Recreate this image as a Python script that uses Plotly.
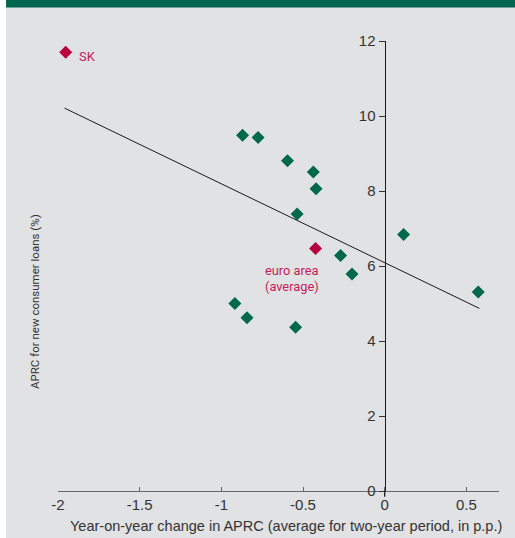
import plotly.graph_objects as go

# ---- data ----
country_x = [-0.87, -0.775, -0.595, -0.437, -0.42, -0.536, -0.27, -0.20, -0.917, 0.116, 0.573, -0.843, -0.545]
country_y = [9.49, 9.43, 8.81, 8.51, 8.06, 7.39, 6.28, 5.79, 5.00, 6.84, 5.31, 4.62, 4.37]
sk_x = [-1.953]
sk_y = [11.70]
ea_x = [-0.423]
ea_y = [6.47]
trend_x = [-1.96, 0.58]
trend_y = [10.21, 4.87]
x_ticks = [-2, -1.5, -1, -0.5, 0, 0.5]
x_tick_labels = ["-2", "-1.5", "-1", "-0.5", "0", "0.5"]
y_ticks = [0, 2, 4, 6, 8, 10, 12]
y_tick_labels = ["0", "2", "4", "6", "8", "10", "12"]

GREEN = "#00684C"
RED = "#B8003F"
LABEL_RED = "#C41E5A"
BG = "#E1E2E3"
LABELFONT = "Roboto, Arial, sans-serif"
TICKFONT = "Liberation Sans, Arial, sans-serif"

x_range = [-2.0, 0.7]
y_pos = (0 - x_range[0]) / (x_range[1] - x_range[0])

fig = go.Figure()
fig.add_trace(go.Scatter(x=trend_x, y=trend_y, mode="lines",
                         line=dict(color="#1a1a1a", width=1), hoverinfo="skip"))
fig.add_trace(go.Scatter(x=country_x, y=country_y, mode="markers",
                         marker=dict(symbol="diamond", size=10, color=GREEN)))
fig.add_trace(go.Scatter(x=ea_x, y=ea_y, mode="markers",
                         marker=dict(symbol="diamond", size=10, color=RED)))
fig.add_trace(go.Scatter(x=sk_x, y=sk_y, mode="markers", cliponaxis=False,
                         marker=dict(symbol="diamond", size=10, color=RED)))

fig.update_layout(
    width=515, height=538,
    margin=dict(l=58, r=15.5, t=41, b=47),
    paper_bgcolor=BG, plot_bgcolor=BG,
    showlegend=False,
    xaxis=dict(range=x_range, tickmode="array", tickvals=x_ticks, ticktext=x_tick_labels,
               showgrid=False, zeroline=False, showline=True, linecolor="#666666", linewidth=1,
               ticks="inside", ticklen=4, tickcolor="#666666",
               tickfont=dict(family=TICKFONT, size=15, color="#333333")),
    yaxis=dict(range=[0, 12], tickmode="array", tickvals=y_ticks, ticktext=y_tick_labels,
               anchor="free", position=y_pos,
               showgrid=False, zeroline=False, showline=True, linecolor="#1a1a1a", linewidth=1.3,
               ticks="outside", ticklen=6, tickcolor="#333333",
               tickfont=dict(family=TICKFONT, size=15, color="#333333")),
    shapes=[
        dict(type="rect", xref="paper", yref="paper", x0=-0.2, x1=-0.1178, y0=-0.2, y1=1.2,
             fillcolor="white", line=dict(width=0), layer="above"),
        dict(type="rect", xref="paper", yref="paper", x0=-0.1178, x1=1.1, y0=1.0744, y1=1.2,
             fillcolor="#00664F", line=dict(width=0), layer="above"),
        dict(type="line", xref="x", yref="paper", x0=0, x1=0, y0=0, y1=-0.013,
             line=dict(color="#1a1a1a", width=1.3)),
    ],
    annotations=[
        dict(text="SK", x=-1.885, y=11.58, xref="x", yref="y", xanchor="left", yanchor="middle",
             showarrow=False, font=dict(family=LABELFONT, size=13, color=LABEL_RED)),
        dict(text="euro area", x=-0.746, y=5.87, xref="x", yref="y", xanchor="left", yanchor="middle",
             showarrow=False, font=dict(family=LABELFONT, size=12.8, color=LABEL_RED)),
        dict(text="(average)", x=-0.746, y=5.46, xref="x", yref="y", xanchor="left", yanchor="middle",
             showarrow=False, font=dict(family=LABELFONT, size=12.8, color=LABEL_RED)),
        dict(text="Year-on-year change in APRC (average for two-year period, in p.p.)",
             x=0.5175, y=-0.0778, xref="paper", yref="paper", xanchor="center", yanchor="middle",
             showarrow=False, font=dict(family=TICKFONT, size=14.5, color="#333333")),
        dict(text="APRC for new consumer loans (%)", textangle=-90,
             x=-0.0521, y=0.42, xref="paper", yref="paper", xanchor="center", yanchor="middle",
             showarrow=False, font=dict(family=LABELFONT, size=11.5, color="#333333")),
    ],
)

fig.write_html("out.html", config={"displayModeBar": False},
               post_script="document.body.style.margin='0';document.body.style.padding='0';")
